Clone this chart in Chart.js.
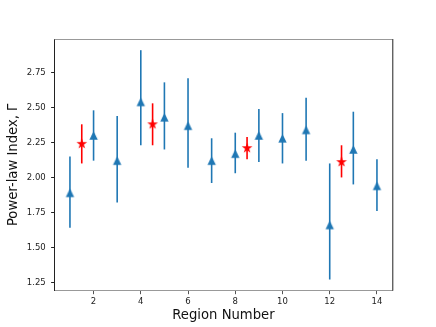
<!DOCTYPE html>
<html>
<head>
<meta charset="utf-8">
<script src="https://cdn.jsdelivr.net/npm/chart.js@4/dist/chart.umd.min.js"></script>
<style>
  html, body { margin: 0; padding: 0; background: #fff; }
  #wrap { width: 436px; height: 327px; }
</style>
</head>
<body>
<div id="wrap"><canvas id="chart"></canvas></div>
<script>
// region spectral fits (blue triangles) with upper / lower error limits
const regions = [1, 2, 3, 4, 5, 6, 7, 8, 9, 10, 11, 12, 13, 14];
const gamma   = [1.89, 2.30, 2.12, 2.54, 2.43, 2.37, 2.12, 2.17, 2.30, 2.28, 2.34, 1.66, 2.20, 1.94];
const gammaHi = [2.15, 2.48, 2.44, 2.91, 2.68, 2.71, 2.28, 2.32, 2.49, 2.46, 2.57, 2.10, 2.47, 2.13];
const gammaLo = [1.64, 2.12, 1.82, 2.23, 2.20, 2.07, 1.96, 2.03, 2.11, 2.10, 2.12, 1.27, 1.95, 1.76];

// combined fits (red stars)
const starX  = [1.5, 4.5, 8.5, 12.5];
const starY  = [2.24, 2.38, 2.21, 2.11];
const starHi = [2.38, 2.53, 2.29, 2.23];
const starLo = [2.10, 2.23, 2.13, 2.00];

const xTicks = [2, 4, 6, 8, 10, 12, 14];
const yTicks = [1.25, 1.50, 1.75, 2.00, 2.25, 2.50, 2.75];

const BLUE = '#1f77b4';
const RED = '#ff0000';

function triangleImage(half, color) {
    const size = Math.ceil(half * 2) + 2;
    const c = document.createElement('canvas');
    c.width = size; c.height = size;
    const ctx = c.getContext('2d');
    const m = size / 2;
    ctx.fillStyle = color;
    ctx.beginPath();
    ctx.moveTo(m, m - half);
    ctx.lineTo(m - half, m + half);
    ctx.lineTo(m + half, m + half);
    ctx.closePath();
    ctx.fill();
    return c;
}

function starImage(outer, color) {
    const inner = outer * 0.381966;
    const size = Math.ceil(outer * 2) + 2;
    const c = document.createElement('canvas');
    c.width = size; c.height = size;
    const ctx = c.getContext('2d');
    const m = size / 2;
    ctx.fillStyle = color;
    ctx.beginPath();
    for (let i = 0; i < 10; i++) {
        const r = i % 2 === 0 ? outer : inner;
        const a = -Math.PI / 2 + i * Math.PI / 5;
        const px = m + r * Math.cos(a);
        const py = m + r * Math.sin(a);
        if (i === 0) ctx.moveTo(px, py); else ctx.lineTo(px, py);
    }
    ctx.closePath();
    ctx.fill();
    return c;
}

const errorBars = {
    id: 'errorBars',
    beforeDatasetsDraw(chart) {
        const { ctx, scales: { x, y } } = chart;
        const draw = (xs, hi, lo, color) => {
            ctx.save();
            ctx.strokeStyle = color;
            ctx.lineWidth = 1.6;
            xs.forEach((v, i) => {
                const px = x.getPixelForValue(v);
                ctx.beginPath();
                ctx.moveTo(px, y.getPixelForValue(hi[i]));
                ctx.lineTo(px, y.getPixelForValue(lo[i]));
                ctx.stroke();
            });
            ctx.restore();
        };
        draw(regions, gammaHi, gammaLo, BLUE);
        draw(starX, starHi, starLo, RED);
    },
    afterDraw(chart) {
        const { ctx, chartArea: a } = chart;
        ctx.save();
        ctx.lineWidth = 1;
        ctx.strokeStyle = '#999';
        ctx.beginPath();
        ctx.moveTo(a.left, a.top + 0.5);
        ctx.lineTo(a.right, a.top + 0.5);
        ctx.stroke();
        ctx.strokeStyle = '#222';
        ctx.beginPath();
        ctx.moveTo(a.right + 0.5, a.top);
        ctx.lineTo(a.right + 0.5, a.bottom);
        ctx.stroke();
        ctx.restore();
    }
};

const tickFont = { family: 'DejaVu Sans', size: 8.5 };
const labelFont = { family: 'DejaVu Sans', size: 13.2 };

new Chart(document.getElementById('chart'), {
    type: 'scatter',
    data: {
        datasets: [
            {
                data: regions.map((r, i) => ({ x: r, y: gamma[i] })),
                pointStyle: triangleImage(4.2, BLUE)
            },
            {
                data: starX.map((r, i) => ({ x: r, y: starY[i] })),
                pointStyle: starImage(5.6, RED)
            }
        ]
    },
    options: {
        responsive: true,
        maintainAspectRatio: false,
        animation: false,
        events: [],
        layout: { padding: { top: 39, right: 43.7, bottom: 0, left: 0 } },
        plugins: { legend: { display: false }, tooltip: { enabled: false } },
        scales: {
            x: {
                type: 'linear',
                min: 0.35,
                max: 14.65,
                afterFit: s => { s.height = 36.3; },
                afterBuildTicks: s => { s.ticks = xTicks.map(v => ({ value: v })); },
                grid: { drawOnChartArea: false, drawTicks: true, tickLength: 3.5, color: '#555' },
                border: { display: true, color: '#999', width: 1 },
                ticks: { font: tickFont, color: '#222', padding: 2.4, maxRotation: 0, callback: v => String(v) },
                title: { display: true, text: 'Region Number', font: labelFont, color: '#111', padding: { top: 0, bottom: 3.6 } }
            },
            y: {
                type: 'linear',
                min: 1.19,
                max: 2.99,
                afterFit: s => { s.width = 54.6; },
                afterBuildTicks: s => { s.ticks = yTicks.map(v => ({ value: v })); },
                grid: { drawOnChartArea: false, drawTicks: true, tickLength: 3.5, color: '#222' },
                border: { display: true, color: '#222', width: 1 },
                ticks: { font: tickFont, color: '#222', padding: 5.4, callback: v => Number(v).toFixed(2) },
                title: { display: true, text: 'Power-law Index, Γ', font: labelFont, color: '#111', padding: { top: 6, bottom: 0 } }
            }
        }
    },
    plugins: [errorBars]
});
</script>
</body>
</html>
